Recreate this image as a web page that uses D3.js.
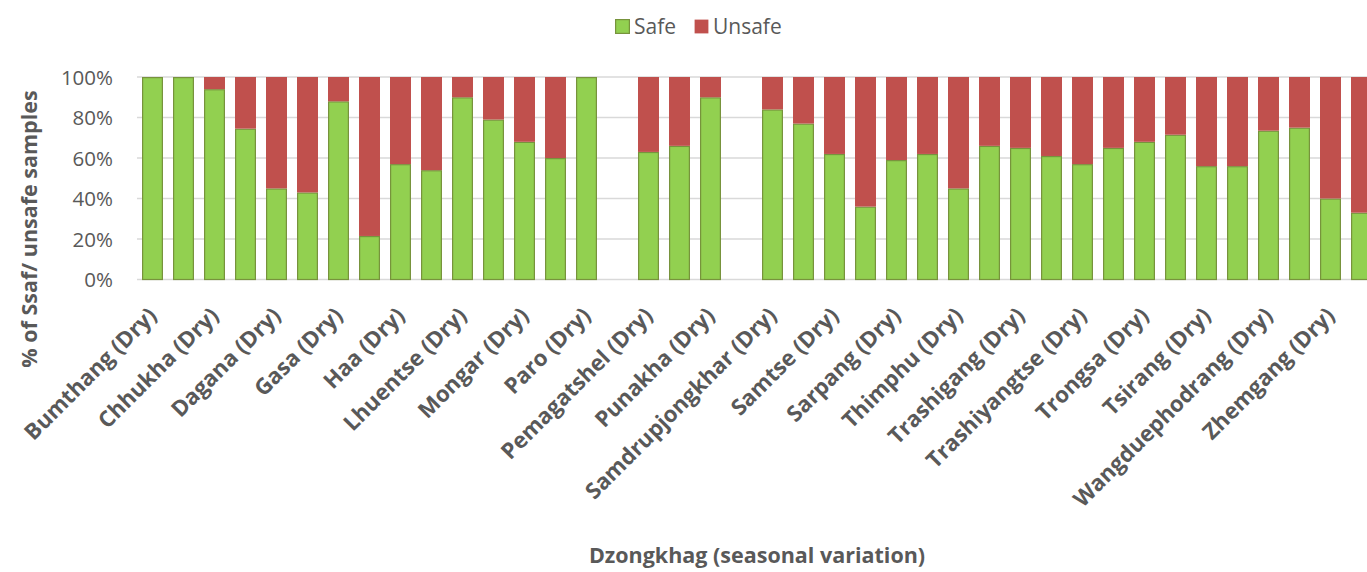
<!DOCTYPE html>
<html>
<head>
<meta charset="utf-8">
<script src="https://cdn.jsdelivr.net/npm/d3@7/dist/d3.min.js"></script>
<style>
  html, body { margin: 0; padding: 0; background: #fff; overflow: hidden; }
  svg { display: block; }
  svg text { font-family: "Open Sans", "DejaVu Sans", sans-serif; }
</style>
</head>
<body>
<svg id="chart" width="1367" height="572"></svg>
<script>
// Dzongkhags, each sampled in a dry and a wet season
const dzongkhags = ["Bumthang", "Chhukha", "Dagana", "Gasa", "Haa", "Lhuentse", "Mongar", "Paro",
  "Pemagatshel", "Punakha", "Samdrupjongkhar", "Samtse", "Sarpang", "Thimphu", "Trashigang",
  "Trashiyangtse", "Trongsa", "Tsirang", "Wangduephodrang", "Zhemgang"];
const seasons = ["Dry", "Wet"];

// % safe samples per dzongkhag: [dry, wet]; null = no samples
const safeDry = [100, 94, 45, 88, 57, 90, 68, 100, 63, 90, 84, 62, 59, 45, 65, 57, 68, 56, 73.5, 40];
const safeWet = [100, 74.5, 43, 21.5, 54, 79, 60, null, 66, null, 77, 36, 62, 66, 61, 65, 71.5, 56, 75, 33];

const yTicks = [0, 20, 40, 60, 80, 100];
const seriesNames = ["Safe", "Unsafe"];
const seriesColors = ["#92D050", "#C0504D"];

// Flatten to one category per dzongkhag/season
const categories = [];
const safe = [];
dzongkhags.forEach((d, i) => {
  seasons.forEach((s, j) => {
    categories.push(`${d} (${s})`);
    safe.push(j === 0 ? safeDry[i] : safeWet[i]);
  });
});
const rows = categories.map((c, i) => ({
  cat: c,
  Safe: safe[i] == null ? 0 : safe[i],
  Unsafe: safe[i] == null ? 0 : 100 - safe[i],
  empty: safe[i] == null
}));

const svg = d3.select("#chart");
const plotTop = 77, plotBottom = 279.5, plotLeft = 137, plotRight = 1377;

const x = d3.scaleBand().domain(categories).range([plotLeft, plotRight])
  .paddingInner(10 / 31).paddingOuter(5 / 31);
const y = d3.scaleLinear().domain([0, 100]).range([plotBottom, plotTop]);

// Gridlines
svg.append("g")
  .selectAll("line").data(yTicks).join("line")
  .attr("x1", plotLeft).attr("x2", plotRight)
  .attr("y1", d => y(d)).attr("y2", d => y(d))
  .attr("stroke", "#d9d9d9").attr("stroke-width", 1.3);

// Y axis labels
const yAxis = d3.axisLeft(y).tickValues(yTicks).tickFormat(d => d + "%").tickSize(0).tickPadding(0);
const yg = svg.append("g").attr("transform", `translate(113,0)`).call(yAxis)
  .attr("font-family", null).attr("font-size", null);
yg.select(".domain").remove();
yg.selectAll("text").attr("fill", "#595959").attr("font-size", 20.5).attr("dy", "0.35em");

// Stacked bars
const stack = d3.stack().keys(seriesNames)(rows.filter(r => !r.empty));
const layers = svg.append("g").selectAll("g").data(stack).join("g")
  .attr("fill", (d, i) => seriesColors[i]);
layers.each(function (layer, li) {
  d3.select(this).selectAll("rect").data(layer.filter(d => d[1] - d[0] > 0)).join("rect")
    .attr("x", d => x(d.data.cat) + (li === 0 ? 0.6 : 0))
    .attr("width", x.bandwidth() - (li === 0 ? 1.2 : 0))
    .attr("y", d => y(d[1]) + (li === 0 ? 0.6 : 0))
    .attr("height", d => y(d[0]) - y(d[1]) - (li === 0 ? 0.6 : 0))
    .attr("stroke", li === 0 ? "#77933C" : "none")
    .attr("stroke-width", li === 0 ? 1.2 : 0);
});

// X axis: only dry-season labels are shown
const xAxis = d3.axisBottom(x).tickValues(categories.filter(c => c.endsWith("(Dry)"))).tickSize(0).tickPadding(0);
const xg = svg.append("g").attr("transform", `translate(0,${plotBottom})`).call(xAxis)
  .attr("font-family", null).attr("font-size", null);
xg.select(".domain").remove();
xg.selectAll(".tick text")
  .attr("fill", "#595959").attr("font-size", 22.2).attr("font-weight", "bold")
  .attr("text-anchor", "end")
  .attr("transform", "translate(0,32) rotate(-45)")
  .attr("dy", "0.35em").attr("y", 0).attr("x", 0);

// Axis titles
svg.append("text")
  .attr("transform", "translate(37,229) rotate(-90)")
  .attr("text-anchor", "middle").attr("fill", "#595959")
  .attr("font-size", 21.5).attr("font-weight", "bold")
  .text("% of Ssaf/ unsafe samples");

svg.append("text")
  .attr("x", 757).attr("y", 563).attr("text-anchor", "middle")
  .attr("fill", "#595959").attr("font-size", 21.5).attr("font-weight", "bold")
  .text("Dzongkhag (seasonal variation)");

// Legend
const legend = svg.append("g");
const legendX = [615, 694];
seriesNames.forEach((name, i) => {
  legend.append("rect")
    .attr("x", legendX[i] + 0.6).attr("y", 19.6).attr("width", 13.8).attr("height", 13.8)
    .attr("fill", seriesColors[i])
    .attr("stroke", i === 0 ? "#77933C" : "none").attr("stroke-width", 1.2);
  legend.append("text")
    .attr("x", legendX[i] + 19).attr("y", 26.5).attr("dy", "0.35em")
    .attr("fill", "#595959").attr("font-size", 21)
    .text(name);
});
</script>
</body>
</html>
